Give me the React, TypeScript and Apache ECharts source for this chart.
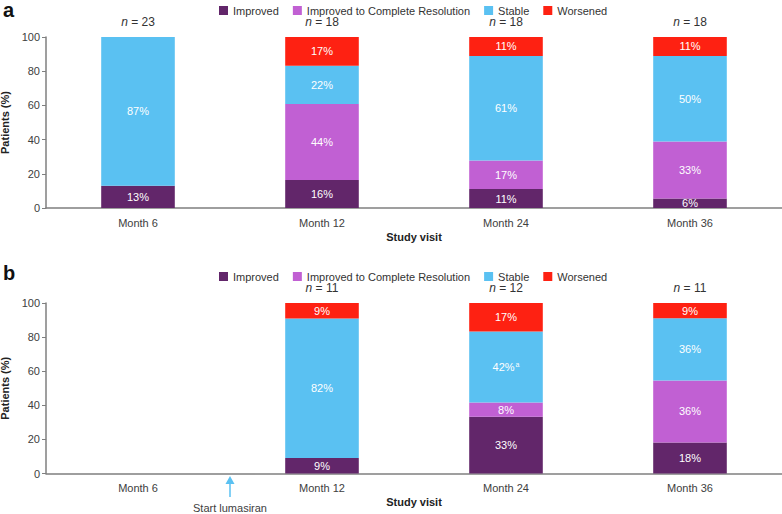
import React, { useEffect, useRef } from "react";
import * as echarts from "echarts";

const categories = ["Month 6", "Month 12", "Month 24", "Month 36"];
const seriesNames = ["Improved", "Improved to Complete Resolution", "Stable", "Worsened"];
const colors = ["#62266a", "#c160d3", "#5ac1f2", "#fe2112"];

const nA = ["23", "18", "18", "18"];
const nB = ["", "11", "12", "11"];

// Panel a
const aImproved = [13.0, 16.4, 11.1, 5.6];
const aComplete = [0, 44.4, 16.7, 33.3];
const aStable = [87.0, 22.4, 61.1, 50.0];
const aWorsened = [0, 16.8, 11.1, 11.1];

// Panel b
const bImproved = [0, 9.1, 33.3, 18.2];
const bComplete = [0, 0, 8.3, 36.4];
const bStable = [0, 81.8, 41.7, 36.4];
const bWorsened = [0, 9.1, 16.7, 9.1];
const bStableNotes = ["", "", "a", ""];

const yTicks = { min: 0, max: 100, interval: 20 };

const FONT = "'Liberation Sans', Arial, sans-serif";

export default function App() {
  const ref = useRef<HTMLDivElement>(null);
  useEffect(() => {
    document.body.style.margin = "0";
    const chart = echarts.init(ref.current!, undefined, { renderer: "svg" });

    const mkSeries = (
      data: number[],
      idx: number,
      grid: number,
      stack: string,
      notes?: string[]
    ) => ({
      name: seriesNames[idx],
      type: "bar",
      stack,
      xAxisIndex: grid * 2,
      yAxisIndex: grid,
      barWidth: "40%",
      data: data.map((v) => (v > 0 ? v : "-")),
      itemStyle: { color: colors[idx] },
      label: {
        show: true,
        position: "inside",
        color: "#ffffff",
        fontSize: 11,
        fontFamily: FONT,
        formatter: (p: any) => {
          const note = notes ? notes[p.dataIndex] : "";
          const txt = Math.round(p.value) + "%";
          return note ? `{v|${txt}}{s|${note}}` : `{v|${txt}}`;
        },
        rich: {
          v: { color: "#ffffff", fontSize: 11, fontFamily: FONT },
          s: { color: "#ffffff", fontSize: 7, fontFamily: FONT, verticalAlign: "top", padding: [0, 0, 6, 1] },
        },
      },
    });

    const grids = [
      { left: 46, right: 0, top: 37, height: 171, outerBoundsMode: "none", containLabel: false },
      { left: 46, right: 0, top: 303, height: 170.5, outerBoundsMode: "none", containLabel: false },
    ];

    const xAxes: any[] = [];
    const yAxes: any[] = [];
    [nA, nB].forEach((nArr, g) => {
      xAxes.push({
        type: "category",
        gridIndex: g,
        data: categories,
        position: "bottom",
        axisLine: { lineStyle: { color: "#7f7f7f", width: 1.5 } },
        axisTick: { show: false },
        axisLabel: { color: "#404040", fontSize: 11, fontFamily: FONT, margin: 9 },
        name: "Study visit",
        nameLocation: "middle",
        nameGap: 23,
        nameTextStyle: { color: "#222", fontSize: 11, fontWeight: "bold", fontFamily: FONT },
      });
      xAxes.push({
        type: "category",
        gridIndex: g,
        data: categories,
        position: "top",
        axisLine: { show: false },
        axisTick: { show: false },
        axisLabel: {
          margin: 9,
          formatter: (_v: string, i: number) => (nArr[i] ? `{i|n} {t|= ${nArr[i]}}` : ""),
          rich: {
            i: { fontStyle: "italic", fontSize: 12, color: "#333", fontFamily: FONT },
            t: { fontSize: 12, color: "#333", fontFamily: FONT },
          },
        },
      });
      yAxes.push({
        type: "value",
        gridIndex: g,
        min: yTicks.min,
        max: yTicks.max,
        interval: yTicks.interval,
        splitLine: { show: false },
        axisLine: { show: true, lineStyle: { color: "#7f7f7f", width: 1.5 } },
        axisTick: { show: true, length: 4, lineStyle: { color: "#7f7f7f" } },
        axisLabel: { color: "#404040", fontSize: 11, fontFamily: FONT, margin: 6 },
        name: "Patients (%)",
        nameLocation: "middle",
        nameGap: 30,
        nameTextStyle: { color: "#222", fontSize: 11, fontWeight: "bold", fontFamily: FONT },
      });
    });

    const legendBase = {
      data: seriesNames,
      itemWidth: 9,
      itemHeight: 9,
      itemGap: 14,
      icon: "rect",
      textStyle: { color: "#333", fontSize: 11, fontFamily: FONT },
    };

    chart.setOption({
      animation: false,
      textStyle: { fontFamily: FONT },
      grid: grids,
      xAxis: xAxes,
      yAxis: yAxes,
      legend: [
        { ...legendBase, top: 0, left: 214 },
        { ...legendBase, top: 266, left: 214 },
      ],
      series: [
        mkSeries(aImproved, 0, 0, "a"),
        mkSeries(aComplete, 1, 0, "a"),
        mkSeries(aStable, 2, 0, "a"),
        mkSeries(aWorsened, 3, 0, "a"),
        mkSeries(bImproved, 0, 1, "b"),
        mkSeries(bComplete, 1, 1, "b"),
        mkSeries(bStable, 2, 1, "b", bStableNotes),
        mkSeries(bWorsened, 3, 1, "b"),
      ],
      graphic: [
        { type: "text", left: 3, top: 0, style: { text: "a", fontSize: 20, fontWeight: "bold", fill: "#111", fontFamily: FONT } },
        { type: "text", left: 3, top: 263, style: { text: "b", fontSize: 20, fontWeight: "bold", fill: "#111", fontFamily: FONT } },
        { type: "line", shape: { x1: 230, y1: 482, x2: 230, y2: 497 }, style: { stroke: "#5ac1f2", lineWidth: 1.5 } },
        { type: "polygon", shape: { points: [[230, 476], [225.5, 484], [234.5, 484]] }, style: { fill: "#5ac1f2" } },
        {
          type: "text",
          x: 230,
          y: 508,
          style: { text: "Start lumasiran", fontSize: 11, fill: "#404040", fontFamily: FONT, align: "center", verticalAlign: "middle" },
        },
      ],
    });
    return () => chart.dispose();
  }, []);
  return <div ref={ref} style={{ width: 782, height: 514 }} />;
}
